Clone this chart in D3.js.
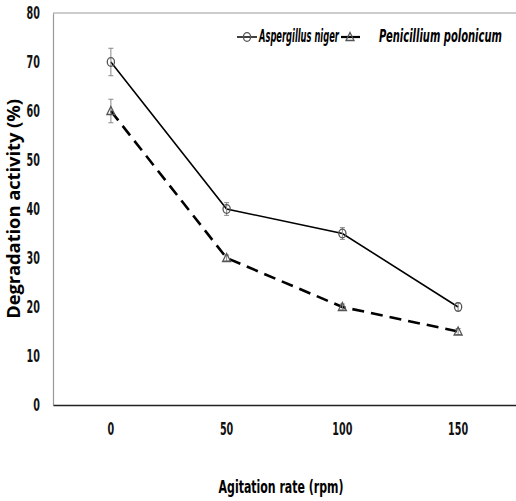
<!DOCTYPE html>
<html><head><meta charset="utf-8">
<script src="https://cdn.jsdelivr.net/npm/d3@7"></script>
<style>body{margin:0;background:#fff}svg{display:block}</style>
</head><body>
<svg id="c" width="516" height="501"></svg>
<script>
const categories = ["0","50","100","150"];
const seriesNames = ["Aspergillus niger","Penicillium polonicum"];
const niger = [70,40,35,20];
const nigerErr = [2.8,1.3,1.2,0.8];
const polonicum = [60,30,20,15];
const polonicumErr = [2.4,0.6,0.6,0.6];
const yTicks = [0,10,20,30,40,50,60,70,80];

const svg = d3.select("#c");
const m = {l:53,t:13,r:0,b:96};
const W = 516, H = 501;
const x = d3.scaleBand().domain(categories).range([m.l, W-m.r]);
const y = d3.scaleLinear().domain([0,80]).range([H-m.b, m.t]);
const font = "'DejaVu Sans Condensed','Liberation Sans',sans-serif";

// horizontally scale a text node (in its own coords) so it spans `w` px
function fit(t, w){
  const node = t.node();
  const len = node.getComputedTextLength();
  const s = w/len;
  const ax = +t.attr("x")||0, ay = +t.attr("y")||0;
  const prev = t.attr("transform") || "";
  t.attr("transform", `${prev} translate(${ax},${ay}) scale(${s},1) translate(${-ax},${-ay})`);
}

// top border
svg.append("line").attr("x1",m.l).attr("x2",W).attr("y1",y(80)).attr("y2",y(80))
  .attr("stroke","#999").attr("stroke-width",1.2);

const ya = svg.append("g").attr("transform",`translate(${m.l},0)`)
  .call(d3.axisLeft(y).tickValues(yTicks).tickSize(0).tickPadding(13));
ya.select(".domain").attr("stroke","#999").attr("stroke-width",1.2);
ya.selectAll("text").attr("font-family",font).attr("font-weight","bold").attr("font-size",17.5).attr("fill","#111")
  .each(function(){ const t=d3.select(this); fit(t, t.text().length*6.7); });

const xa = svg.append("g").attr("transform",`translate(0,${y(0)})`)
  .call(d3.axisBottom(x).tickSize(0).tickPadding(18));
xa.select(".domain").attr("stroke","#222").attr("stroke-width",1.5);
xa.selectAll("text").attr("font-family",font).attr("font-weight","bold").attr("font-size",17.5).attr("fill","#111")
  .each(function(){ const t=d3.select(this); fit(t, t.text().length*6.7); });

const cx = c => x(c) + x.bandwidth()/2;

function drawSeries(vals, errs, dash, marker){
  const data = categories.map((c,i)=>({c, v:vals[i], e:errs[i]}));
  svg.append("path").datum(data)
    .attr("d", d3.line().x(d=>cx(d.c)).y(d=>y(d.v)))
    .attr("fill","none").attr("stroke","#000")
    .attr("stroke-width", dash ? 2.6 : 1.6)
    .attr("stroke-dasharray", dash ? "12,7" : null);
  const eb = svg.append("g").attr("stroke","#888").attr("stroke-width",1);
  data.forEach(d=>{
    eb.append("line").attr("x1",cx(d.c)).attr("x2",cx(d.c)).attr("y1",y(d.v-d.e)).attr("y2",y(d.v+d.e));
    [d.v-d.e,d.v+d.e].forEach(v=>eb.append("line").attr("x1",cx(d.c)-2.5).attr("x2",cx(d.c)+2.5).attr("y1",y(v)).attr("y2",y(v)));
  });
  data.forEach(d=>marker(svg, cx(d.c), y(d.v)));
}
function circ(g,px,py){ g.append("ellipse").attr("cx",px).attr("cy",py).attr("rx",3.6).attr("ry",4.3).attr("fill","none").attr("stroke","#555").attr("stroke-width",1.3); }
function tri(g,px,py){ g.append("path").attr("d",`M${px},${py-4.5}L${px+4},${py+3.5}L${px-4},${py+3.5}Z`).attr("fill","none").attr("stroke","#555").attr("stroke-width",1.3); }

drawSeries(niger, nigerErr, false, circ);
drawSeries(polonicum, polonicumErr, true, tri);

// legend
const ly = 37;
svg.append("line").attr("x1",237).attr("x2",257).attr("y1",ly).attr("y2",ly).attr("stroke","#000").attr("stroke-width",1.5);
circ(svg,247,ly);
fit(svg.append("text").attr("x",259).attr("y",ly+5.5).text(seriesNames[0])
  .attr("font-family",font).attr("font-style","italic").attr("font-weight","bold").attr("font-size",17), 80);
svg.append("line").attr("x1",341).attr("x2",360).attr("y1",ly).attr("y2",ly).attr("stroke","#000").attr("stroke-width",2.2);
tri(svg,350,ly);
fit(svg.append("text").attr("x",379).attr("y",ly+5.5).text(seriesNames[1])
  .attr("font-family",font).attr("font-style","italic").attr("font-weight","bold").attr("font-size",17), 123);

// axis titles
fit(svg.append("text").attr("transform",`translate(20,${(y(0)+y(80))/2}) rotate(-90)`)
  .attr("text-anchor","middle").text("Degradation activity (%)")
  .attr("font-family","'Open Sans','DejaVu Sans',sans-serif").attr("font-weight","bold").attr("font-size",17), 220);
fit(svg.append("text").attr("x",281).attr("y",493).attr("text-anchor","middle").text("Agitation rate (rpm)")
  .attr("font-family",font).attr("font-weight","bold").attr("font-size",18), 125);
</script>
</body></html>
